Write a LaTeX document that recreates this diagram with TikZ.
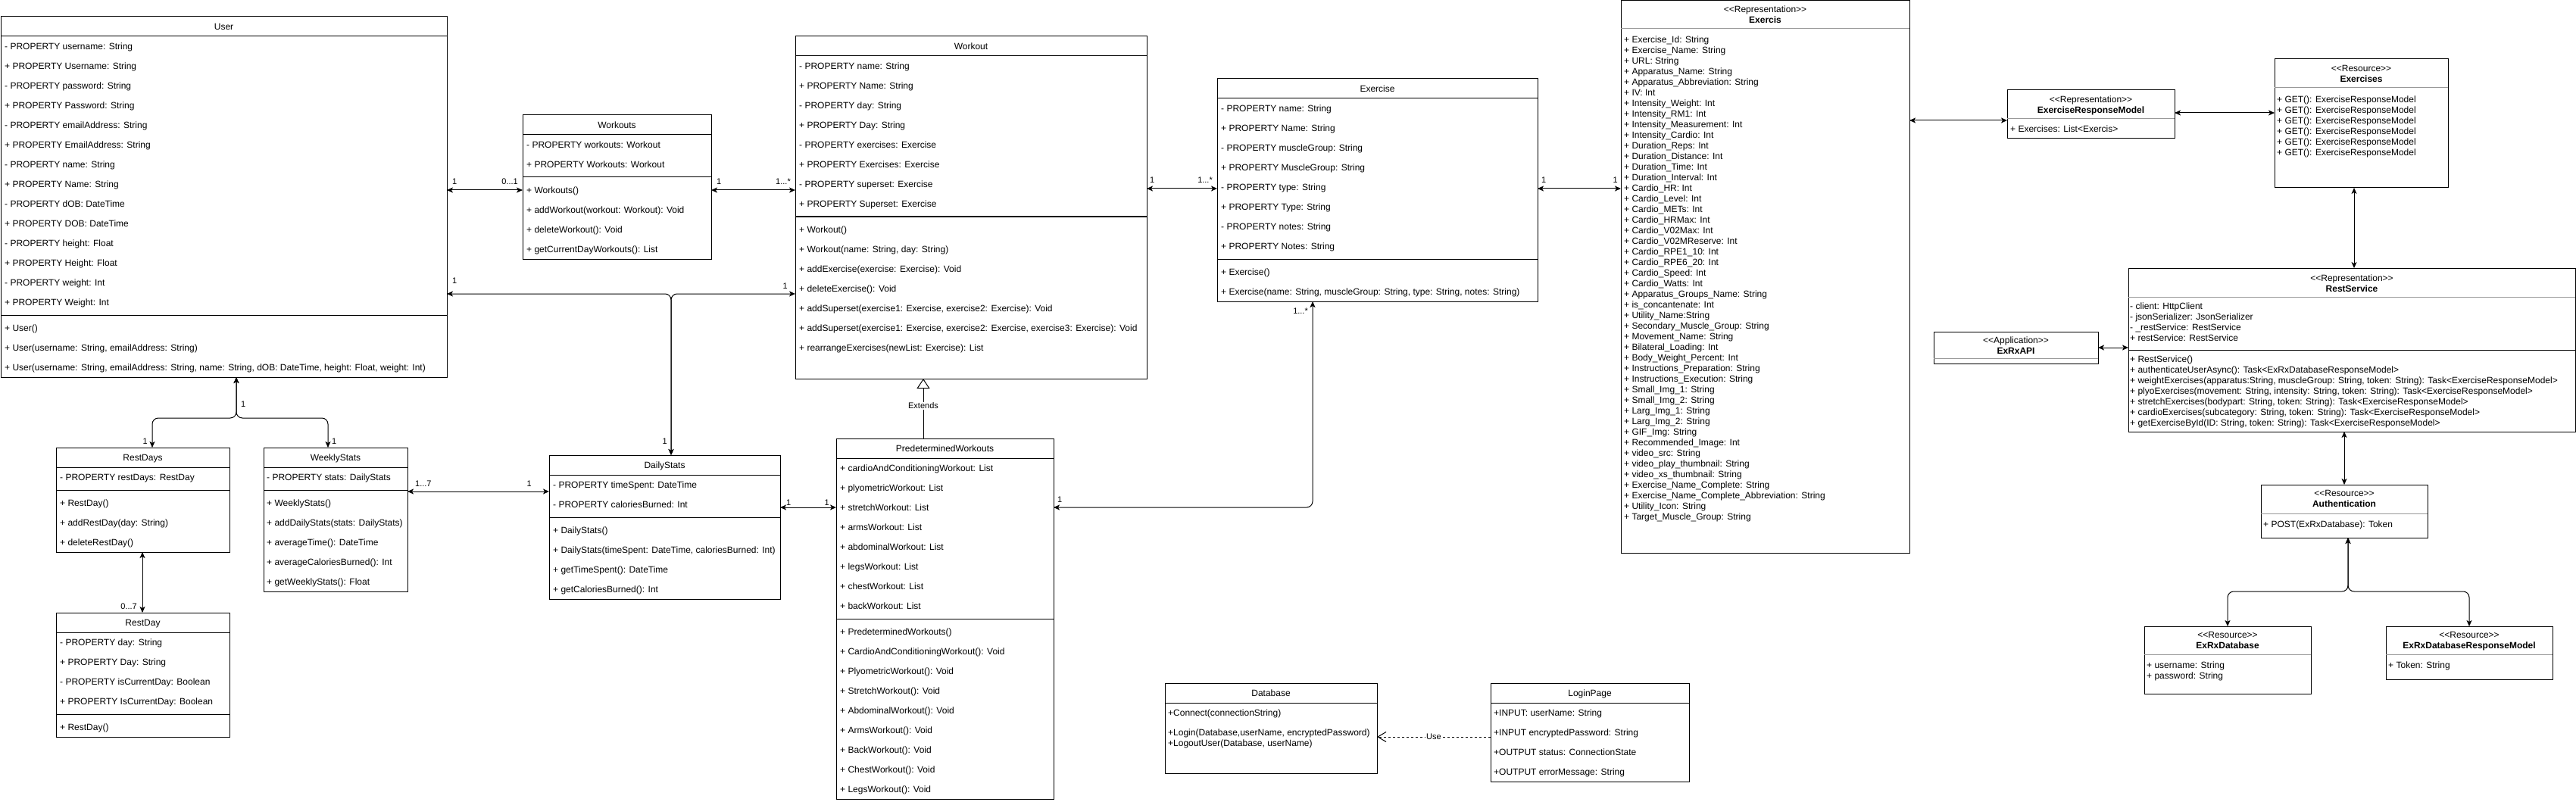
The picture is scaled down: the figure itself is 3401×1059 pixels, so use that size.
\documentclass[tikz,border=0pt]{standalone}
\usepackage{fontspec}
\setmainfont{Liberation Sans}
\usetikzlibrary{arrows.meta}
\newcommand\rowsat[5]{\foreach \t [count=\i] in {#5}{\node[row] (#1\i) at (#2,{#3+(\i-1)*#4+4.3}) {\t};}}
\begin{document}
\begin{tikzpicture}[x=1pt,y=-1pt,
  box/.style={draw=black, line width=1pt, fill=white, inner sep=0pt, outer sep=0pt, anchor=north west},
  row/.style={anchor=base west, inner sep=0pt, font=\fontsize{12}{14}\selectfont},
  ttl/.style={anchor=base, inner sep=0pt, font=\fontsize{12}{14}\selectfont},
  bttl/.style={anchor=base, inner sep=0pt, font=\fontsize{12}{14}\selectfont\bfseries},
  sepl/.style={line width=1pt},
  gsep/.style={line width=1pt, draw=black!40},
  lbl/.style={inner sep=0pt, font=\fontsize{11}{13}\selectfont},
  arr/.style={line width=1pt, {Stealth[length=8pt,width=7pt,inset=2pt]}-{Stealth[length=8pt,width=7pt,inset=2pt]}},
  rc/.style={rounded corners=8pt},
  ext/.style={line width=1pt, -{Triangle[length=13pt,width=17pt,fill=white]}},
  usearr/.style={line width=1pt, dashed, dash pattern=on 3pt off 3pt, -{Straight Barb[length=11pt,width=13pt]}}
]
\fill[white] (0,0) rectangle (3401,1059);
\useasboundingbox (0,0) rectangle (3401,1059);

% ---------------- User
\node[box, minimum width=589pt, minimum height=476pt] (user) at (1,22) {};
\node[ttl] (user-t) at (295.5,39.3) {User};
\draw[sepl] (1,48) -- (590,48);
\rowsat{user-a}{6}{61}{26}{- PROPERTY username: String,+ PROPERTY Username: String,- PROPERTY password: String,+ PROPERTY Password: String,- PROPERTY emailAddress: String,+ PROPERTY EmailAddress: String,- PROPERTY name: String,+ PROPERTY Name: String,- PROPERTY dOB: DateTime,+ PROPERTY DOB: DateTime,- PROPERTY height: Float,+ PROPERTY Height: Float,- PROPERTY weight: Int,+ PROPERTY Weight: Int}
\draw[sepl] (1,416) -- (590,416);
\rowsat{user-m}{6}{433}{26}{+ User(),{+ User(username: String, emailAddress: String)},{+ User(username: String, emailAddress: String, name: String, dOB: DateTime, height: Float, weight: Int)}}

% ---------------- Workouts
\node[box, minimum width=249pt, minimum height=190pt] (wks) at (690,152) {};
\node[ttl] (wks-t) at (814.5,169.3) {Workouts};
\draw[sepl] (690,178) -- (939,178);
\rowsat{wks-a}{695}{191}{26}{- PROPERTY workouts: Workout,+ PROPERTY Workouts: Workout}
\draw[sepl] (690,234) -- (939,234);
\rowsat{wks-m}{695}{251}{26}{+ Workouts(),+ addWorkout(workout: Workout): Void,+ deleteWorkout(): Void,+ getCurrentDayWorkouts(): List}

% ---------------- Workout
\node[box, minimum width=464pt, minimum height=452pt] (wo) at (1050,48) {};
\node[ttl] (wo-t) at (1282,65.3) {Workout};
\draw[sepl] (1050,74) -- (1514,74);
\rowsat{wo-a}{1055}{87}{26}{- PROPERTY name: String,+ PROPERTY Name: String,- PROPERTY day: String,+ PROPERTY Day: String,- PROPERTY exercises: Exercise,+ PROPERTY Exercises: Exercise,- PROPERTY superset: Exercise,+ PROPERTY Superset: Exercise}
\draw[sepl] (1050,286) -- (1514,286);
\rowsat{wo-m}{1055}{303}{26}{+ Workout(),{+ Workout(name: String, day: String)},+ addExercise(exercise: Exercise): Void,+ deleteExercise(): Void,{+ addSuperset(exercise1: Exercise, exercise2: Exercise): Void},{+ addSuperset(exercise1: Exercise, exercise2: Exercise, exercise3: Exercise): Void},+ rearrangeExercises(newList: Exercise): List}

% ---------------- Exercise
\node[box, minimum width=423pt, minimum height=294pt] (ex) at (1607,104) {};
\node[ttl] (ex-t) at (1818.5,121.3) {Exercise};
\draw[sepl] (1607,130) -- (2030,130);
\rowsat{ex-a}{1612}{143}{26}{- PROPERTY name: String,+ PROPERTY Name: String,- PROPERTY muscleGroup: String,+ PROPERTY MuscleGroup: String,- PROPERTY type: String,+ PROPERTY Type: String,- PROPERTY notes: String,+ PROPERTY Notes: String}
\draw[sepl] (1607,342) -- (2030,342);
\rowsat{ex-m}{1612}{359}{26}{+ Exercise(),{+ Exercise(name: String, muscleGroup: String, type: String, notes: String)}}

% ---------------- Exercis
\node[box, minimum width=381pt, minimum height=729pt] (exs) at (2140,1) {};
\node[ttl] (exs-s) at (2330.5,16.3) {<{}<Representation>{}>};
\node[bttl] (exs-t) at (2330.5,30.3) {Exercis};
\draw[gsep] (2140,38) -- (2521,38);
\rowsat{exs-a}{2144}{52}{14}{+ Exercise\_Id: String,+ Exercise\_Name: String,+ URL: String,+ Apparatus\_Name: String,+ Apparatus\_Abbreviation: String,+ IV: Int,+ Intensity\_Weight: Int,+ Intensity\_RM1: Int,+ Intensity\_Measurement: Int,+ Intensity\_Cardio: Int,+ Duration\_Reps: Int,+ Duration\_Distance: Int,+ Duration\_Time: Int,+ Duration\_Interval: Int,+ Cardio\_HR: Int,+ Cardio\_Level: Int,+ Cardio\_METs: Int,+ Cardio\_HRMax: Int,+ Cardio\_V02Max: Int,+ Cardio\_V02MReserve: Int,+ Cardio\_RPE1\_10: Int,+ Cardio\_RPE6\_20: Int,+ Cardio\_Speed: Int,+ Cardio\_Watts: Int,+ Apparatus\_Groups\_Name: String,+ is\_concantenate: Int,+ Utility\_Name:String,+ Secondary\_Muscle\_Group: String,+ Movement\_Name: String,+ Bilateral\_Loading: Int,+ Body\_Weight\_Percent: Int,+ Instructions\_Preparation: String,+ Instructions\_Execution: String,+ Small\_Img\_1: String,+ Small\_Img\_2: String,+ Larg\_Img\_1: String,+ Larg\_Img\_2: String,+ GIF\_Img: String,+ Recommended\_Image: Int,+ video\_src: String,+ video\_play\_thumbnail: String,+ video\_xs\_thumbnail: String,+ Exercise\_Name\_Complete: String,+ Exercise\_Name\_Complete\_Abbreviation: String,+ Utility\_Icon: String,+ Target\_Muscle\_Group: String}

% ---------------- ExerciseResponseModel
\node[box, minimum width=221pt, minimum height=64pt] (erm) at (2650,119) {};
\node[ttl] (erm-s) at (2760.5,135.3) {<{}<Representation>{}>};
\node[bttl] (erm-t) at (2760.5,149.3) {ExerciseResponseModel};
\draw[gsep] (2650,157) -- (2871,157);
\rowsat{erm-a}{2654}{170}{14}{+ Exercises: List<Exercis>}

% ---------------- Exercises resource
\node[box, minimum width=229pt, minimum height=170pt] (exres) at (3003,78) {};
\node[ttl] (exres-s) at (3117.5,94.3) {<{}<Resource>{}>};
\node[bttl] (exres-t) at (3117.5,108.3) {Exercises};
\draw[gsep] (3003,116) -- (3232,116);
\rowsat{exres-a}{3006}{131}{14}{+ GET(): ExerciseResponseModel,+ GET(): ExerciseResponseModel,+ GET(): ExerciseResponseModel,+ GET(): ExerciseResponseModel,+ GET(): ExerciseResponseModel,+ GET(): ExerciseResponseModel}

% ---------------- RestService
\node[box, minimum width=590pt, minimum height=216pt] (rs) at (2810,354) {};
\node[ttl] (rs-s) at (3105,371.3) {<{}<Representation>{}>};
\node[bttl] (rs-t) at (3105,385.3) {RestService};
\draw[gsep] (2810,392) -- (3400,392);
\rowsat{rs-a}{2812}{404}{14}{- client: HttpClient,- jsonSerializer: JsonSerializer,- \_restService: RestService,+ restService: RestService}
\draw[sepl] (2810,462) -- (3400,462);
\rowsat{rs-m}{2812}{474}{14}{+ RestService(),+ authenticateUserAsync(): Task<ExRxDatabaseResponseModel>,{+ weightExercises(apparatus:String, muscleGroup: String, token: String): Task<ExerciseResponseModel>},{+ plyoExercises(movement: String, intensity: String, token: String): Task<ExerciseResponseModel>},{+ stretchExercises(bodypart: String, token: String): Task<ExerciseResponseModel>},{+ cardioExercises(subcategory: String, token: String): Task<ExerciseResponseModel>},{+ getExerciseById(ID: String, token: String): Task<ExerciseResponseModel>}}

% ---------------- ExRxAPI
\node[box, minimum width=217pt, minimum height=42pt] (api) at (2553,438) {};
\node[ttl] (api-s) at (2661.5,453.3) {<{}<Application>{}>};
\node[bttl] (api-t) at (2661.5,467.3) {ExRxAPI};
\draw[gsep] (2553,473) -- (2770,473);

% ---------------- Authentication
\node[box, minimum width=220pt, minimum height=70pt] (auth) at (2985,640) {};
\node[ttl] (auth-s) at (3095,655.3) {<{}<Resource>{}>};
\node[bttl] (auth-t) at (3095,669.3) {Authentication};
\draw[gsep] (2985,678) -- (3205,678);
\rowsat{auth-a}{2988}{692}{14}{+ POST(ExRxDatabase): Token}

% ---------------- ExRxDatabase
\node[box, minimum width=220pt, minimum height=89pt] (db2) at (2831,827) {};
\node[ttl] (db2-s) at (2941,842.3) {<{}<Resource>{}>};
\node[bttl] (db2-t) at (2941,856.3) {ExRxDatabase};
\draw[gsep] (2831,864) -- (3051,864);
\rowsat{db2-a}{2834}{878}{14}{+ username: String,+ password: String}

% ---------------- ExRxDatabaseResponseModel
\node[box, minimum width=220pt, minimum height=70pt] (drm) at (3150,827) {};
\node[ttl] (drm-s) at (3260,842.3) {<{}<Resource>{}>};
\node[bttl] (drm-t) at (3260,856.3) {ExRxDatabaseResponseModel};
\draw[gsep] (3150,864) -- (3370,864);
\rowsat{drm-a}{3153}{878}{14}{+ Token: String}

% ---------------- RestDays
\node[box, minimum width=229pt, minimum height=138pt] (rdays) at (74,591) {};
\node[ttl] (rdays-t) at (188.5,608.3) {RestDays};
\draw[sepl] (74,617) -- (303,617);
\rowsat{rdays-a}{79}{630}{26}{- PROPERTY restDays: RestDay}
\draw[sepl] (74,647) -- (303,647);
\rowsat{rdays-m}{79}{664}{26}{+ RestDay(),+ addRestDay(day: String),+ deleteRestDay()}

% ---------------- WeeklyStats
\node[box, minimum width=190pt, minimum height=190pt] (ws) at (348,591) {};
\node[ttl] (ws-t) at (443,608.3) {WeeklyStats};
\draw[sepl] (348,617) -- (538,617);
\rowsat{ws-a}{352}{630}{26}{- PROPERTY stats: DailyStats}
\draw[sepl] (348,647) -- (538,647);
\rowsat{ws-m}{352}{664}{26}{+ WeeklyStats(),+ addDailyStats(stats: DailyStats),+ averageTime(): DateTime,+ averageCaloriesBurned(): Int,+ getWeeklyStats(): Float}

% ---------------- DailyStats
\node[box, minimum width=305pt, minimum height=190pt] (ds) at (725,601) {};
\node[ttl] (ds-t) at (877.5,618.3) {DailyStats};
\draw[sepl] (725,627) -- (1030,627);
\rowsat{ds-a}{730}{640}{26}{- PROPERTY timeSpent: DateTime,- PROPERTY caloriesBurned: Int}
\draw[sepl] (725,683) -- (1030,683);
\rowsat{ds-m}{730}{700}{26}{+ DailyStats(),{+ DailyStats(timeSpent: DateTime, caloriesBurned: Int)},+ getTimeSpent(): DateTime,+ getCaloriesBurned(): Int}

% ---------------- RestDay
\node[box, minimum width=229pt, minimum height=164pt] (rday) at (74,809) {};
\node[ttl] (rday-t) at (188.5,826.3) {RestDay};
\draw[sepl] (74,835) -- (303,835);
\rowsat{rday-a}{79}{848}{26}{- PROPERTY day: String,+ PROPERTY Day: String,- PROPERTY isCurrentDay: Boolean,+ PROPERTY IsCurrentDay: Boolean}
\draw[sepl] (74,943) -- (303,943);
\rowsat{rday-m}{79}{960}{26}{+ RestDay()}

% ---------------- PredeterminedWorkouts
\node[box, minimum width=287pt, minimum height=476pt] (pw) at (1104,579) {};
\node[ttl] (pw-t) at (1247.5,596.3) {PredeterminedWorkouts};
\draw[sepl] (1104,605) -- (1391,605);
\rowsat{pw-a}{1109}{618}{26}{+ cardioAndConditioningWorkout: List,+ plyometricWorkout: List,+ stretchWorkout: List,+ armsWorkout: List,+ abdominalWorkout: List,+ legsWorkout: List,+ chestWorkout: List,+ backWorkout: List}
\draw[sepl] (1104,817) -- (1391,817);
\rowsat{pw-m}{1109}{834}{26}{+ PredeterminedWorkouts(),+ CardioAndConditioningWorkout(): Void,+ PlyometricWorkout(): Void,+ StretchWorkout(): Void,+ AbdominalWorkout(): Void,+ ArmsWorkout(): Void,+ BackWorkout(): Void,+ ChestWorkout(): Void,+ LegsWorkout(): Void}

% ---------------- Database
\node[box, minimum width=280pt, minimum height=119pt] (db) at (1538,902) {};
\node[ttl] (db-t) at (1678,919.3) {Database};
\draw[sepl] (1538,928) -- (1818,928);
\node[row] (db-a1) at (1542,945.3) {+Connect(connectionString)};
\node[row] (db-a2) at (1542,971.3) {+Login(Database,userName, encryptedPassword)};
\node[row] (db-a3) at (1542,985.3) {+LogoutUser(Database, userName)};

% ---------------- LoginPage
\node[box, minimum width=262pt, minimum height=130pt] (login) at (1968,902) {};
\node[ttl] (login-t) at (2099,919.3) {LoginPage};
\draw[sepl] (1968,928) -- (2230,928);
\rowsat{login-a}{1972}{941}{26}{+INPUT: userName: String,+INPUT encryptedPassword: String,+OUTPUT status: ConnectionState,+OUTPUT errorMessage: String}

% ================= connectors
\coordinate (yA) at (0,251);
\draw[arr] (user.east |- yA) -- (wks.west |- yA);
\draw[arr] (wks.east |- yA) -- (wo.west |- yA);
\coordinate (yB) at (0,249);
\draw[arr] (wo.east |- yB) -- (ex.west |- yB);
\draw[arr] (ex.east |- yB) -- (exs.west |- yB);
\coordinate (yC) at (0,159);
\draw[arr] (exs.east |- yC) -- (erm.west |- yC);
\coordinate (yD) at (0,149);
\draw[arr] (erm.east |- yD) -- (exres.west |- yD);
\coordinate (xE) at (3108,0);
\draw[arr] (xE |- exres.south) -- (xE |- rs.north);
\coordinate (yF) at (0,459);
\draw[arr] (api.east |- yF) -- (rs.west |- yF);
\coordinate (xG) at (3095,0);
\draw[arr] (xG |- rs.south) -- (xG |- auth.north);
\coordinate (jH) at (3100,781);
\draw[arr, rc] (jH |- auth.south) -- (jH) -| (db2.north);
\draw[arr, rc] (jH |- auth.south) -- (jH) -| (drm.north);
\coordinate (jK) at (312,552);
\coordinate (xK1) at (201,0);
\coordinate (xK2) at (433,0);
\draw[arr, rc] (jK |- user.south) -- (jK) -| (xK1 |- rdays.north);
\draw[arr, rc] (jK |- user.south) -- (jK) -| (xK2 |- ws.north);
\coordinate (xL) at (188,0);
\draw[arr] (xL |- rdays.south) -- (xL |- rday.north);
\coordinate (yM) at (0,649);
\draw[arr] (ws.east |- yM) -- (ds.west |- yM);
\coordinate (jN) at (886,388);
\draw[arr, rc] (jN |- ds.north) -- (jN) -- (user.east |- jN);
\draw[arr, rc] (jN |- ds.north) -- (jN) -- (wo.west |- jN);
\coordinate (yO) at (0,670);
\draw[arr] (ds.east |- yO) -- (pw.west |- yO);
\coordinate (cP) at (1733,670);
\draw[arr, rc] (pw.east |- cP) -- (cP) -- (cP |- ex.south);
\coordinate (xQ) at (1219,0);
\draw[ext] (xQ |- pw.north) -- node[lbl, fill=white, inner sep=1pt, pos=0.55] (extlbl) {Extends} (xQ |- wo.south);
\coordinate (yR) at (0,973);
\draw[usearr] (login.west |- yR) -- node[lbl, fill=white, inner sep=1pt] (uselbl) {Use} (db.east |- yR);

% ================= multiplicities
\node[lbl, anchor=base west] (m1) at (597,244) {1};
\node[lbl, anchor=base east] (m2) at (684,244) {0...1};
\node[lbl, anchor=base west] (m3) at (946,244) {1};
\node[lbl, anchor=base east] (m4) at (1044,244) {1...*};
\node[lbl, anchor=base west] (m5) at (1518,242) {1};
\node[lbl, anchor=base east] (m6) at (1601,242) {1...*};
\node[lbl, anchor=base west] (m7) at (2035,242) {1};
\node[lbl, anchor=base east] (m8) at (2136,242) {1};
\node[lbl, anchor=base west] (m9) at (597,374) {1};
\node[lbl, anchor=base east] (m10) at (1040,381) {1};
\node[lbl, anchor=base east] (m11) at (881,586) {1};
\node[lbl, anchor=base west] (m12) at (318,537) {1};
\node[lbl, anchor=base east] (m13) at (195,586) {1};
\node[lbl, anchor=base west] (m14) at (438,586) {1};
\node[lbl, anchor=base east] (m15) at (181,804) {0...7};
\node[lbl, anchor=base west] (m16) at (548,642) {1...7};
\node[lbl, anchor=base east] (m17) at (702,642) {1};
\node[lbl, anchor=base west] (m18) at (1038,667) {1};
\node[lbl, anchor=base east] (m19) at (1095,667) {1};
\node[lbl, anchor=base west] (m20) at (1396,663) {1};
\node[lbl, anchor=base east] (m21) at (1727,414) {1...*};
\end{tikzpicture}
\end{document}
